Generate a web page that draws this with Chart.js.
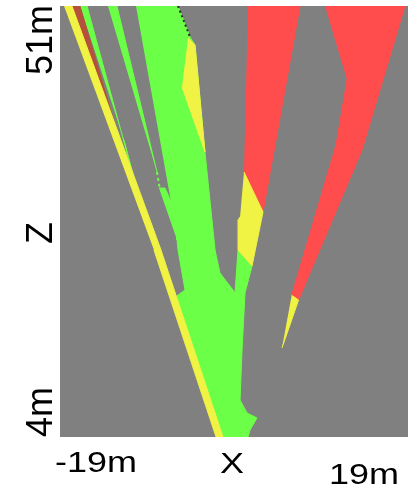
<!DOCTYPE html>
<html>
<head>
<meta charset="utf-8">
<script src="https://cdn.jsdelivr.net/npm/chart.js@4.4.0/dist/chart.umd.min.js"></script>
<style>
  html, body { margin: 0; padding: 0; background: #fff; }
  #wrap { width: 408px; height: 492px; }
</style>
</head>
<body>
<div id="wrap"><canvas id="my_chart" width="408" height="492"></canvas></div>
<script>
(function() {
  'use strict';

  // axis ranges and labels (metres)
  var xRange = [-19, 19];
  var zRange = [4, 51];
  var xTickLabels = ['-19m', '19m'];
  var zTickLabels = ['4m', '51m'];
  var xTitle = 'X';
  var zTitle = 'Z';

  // region outlines, x / z in metres
  var redRightX = [9.94, 18.67, 13.98, 7.05, 6.3, 11.14, 12.34];
  var redRightZ = [51, 51, 35.3, 18.94, 19.45, 35.84, 42.93];

  var yellowTipX = [6.3, 7.05, 5.24];
  var yellowTipZ = [19.45, 18.94, 13.71];

  var redLeftX = [1.53, 7.21, 3.17, 1.09];
  var redLeftZ = [51, 51, 28.54, 32.9];

  var greenMainX = [-10.7, -6.11, -4.8, -4.26, -3.17, -2.07, -1.53, -0.11, 0.11, 0.44, 1.97, 1.2, 0.88, 0.66, 1.42, 2.51, 1.75, 1.53, -1.64, -6.55, -5.35, -6.11, -6.33];
  var greenMainZ = [51, 51, 47.62, 46.75, 35.08, 24.39, 21.88, 20.03, 19.7, 24.39, 22.65, 19.7, 13.49, 8.03, 6.62, 6.07, 4.76, 4, 4, 19.16, 20.03, 24.39, 26.57];

  var yellowBranchX = [1.09, 3.17, 1.97, 0.44, 0.44, 0.66];
  var yellowBranchZ = [32.9, 28.54, 22.65, 24.39, 27.66, 27.99];

  var yellowWedgeX = [-5.02, -4.26, -3.17, -5.68];
  var yellowWedgeZ = [47.51, 46.75, 35.08, 42.17];

  var greenSpurX = [-8.19, -7.53, -6.22, -6.22];
  var greenSpurZ = [31.15, 31.15, 28.21, 25.48];

  var stripe2X = [-13.76, -12.78, -8.41];
  var stripe2Z = [51, 51, 32.9];
  var stripe2TailX = [-8.41, -8.08];
  var stripe2TailZ = [32.9, 30.94];

  var stripe1X = [-16.82, -16.05, -10.7, -12.01];
  var stripe1Z = [51, 51, 31.37, 36.39];

  var redStripeX = [-17.69, -16.82, -12.67];
  var redStripeZ = [51, 51, 36.93];

  var yellowStripeX = [-18.56, -17.69, -7.97, -1.2, -1.96, -8.74];
  var yellowStripeZ = [51, 51, 24.39, 4, 4, 24.39];

  var specksX = [-6.11, -4.8];
  var specksZ = [51, 47.62];

  var GRAY = '#808080';
  var GREEN = '#6bff47';
  var RED = '#ff4d4d';
  var YELLOW = '#f0f244';

  function outline(xs, zs) {
    return xs.map(function(x, i) { return {x: x, y: zs[i]}; });
  }

  // bottom to top
  var layers = [
    {x: redRightX, z: redRightZ, color: RED},
    {x: yellowTipX, z: yellowTipZ, color: YELLOW},
    {x: redLeftX, z: redLeftZ, color: RED},
    {x: greenMainX, z: greenMainZ, color: GREEN},
    {x: yellowBranchX, z: yellowBranchZ, color: YELLOW},
    {x: yellowWedgeX, z: yellowWedgeZ, color: YELLOW},
    {x: greenSpurX, z: greenSpurZ, color: GREEN},
    {x: stripe2X, z: stripe2Z, color: GREEN},
    {x: stripe2TailX, z: stripe2TailZ, color: GREEN, line: true, dash: [3, 3]},
    {x: stripe1X, z: stripe1Z, color: GREEN},
    {x: redStripeX, z: redStripeZ, color: '#b5503a'},
    {x: yellowStripeX, z: yellowStripeZ, color: YELLOW},
    {x: specksX, z: specksZ, color: '#2a2a2a', line: true, dash: [2, 3]}
  ];

  var datasets = layers.map(function(l, i) {
    return {
      data: outline(l.x, l.z),
      fill: l.line ? false : 'shape',
      backgroundColor: l.color,
      borderColor: l.color,
      borderWidth: l.line ? 2 : 1,
      borderDash: l.dash || [],
      pointRadius: 0,
      tension: 0,
      order: layers.length - i
    };
  });

  // gray plot area
  var plotBackground = {
    id: 'plotBackground',
    beforeDraw: function(chart) {
      var a = chart.chartArea, ctx = chart.ctx;
      ctx.save();
      ctx.fillStyle = GRAY;
      ctx.fillRect(a.left, a.top, a.right - a.left, a.bottom - a.top);
      ctx.restore();
    }
  };

  function drawText(ctx, s, x, y, align, rot) {
    ctx.save();
    ctx.translate(x, y);
    ctx.rotate(rot);
    ctx.scale(1.2, rot ? 1.25 : 1);
    ctx.textAlign = align;
    ctx.fillText(s, 0, 0);
    ctx.restore();
  }

  // axis end labels and titles
  var axisText = {
    id: 'axisText',
    afterDraw: function(chart) {
      var ctx = chart.ctx, xs = chart.scales.x, ys = chart.scales.y;
      ctx.save();
      ctx.fillStyle = '#000';
      ctx.font = '30px "Liberation Sans", Arial, sans-serif';
      ctx.textBaseline = 'alphabetic';
      drawText(ctx, xTickLabels[0], xs.getPixelForValue(xRange[0]) - 5, 472, 'left', 0);
      drawText(ctx, xTitle, (xs.left + xs.right) / 2 - 2, 473, 'center', 0);
      drawText(ctx, xTickLabels[1], xs.getPixelForValue(xRange[1]) - 9, 484, 'right', 0);
      drawText(ctx, zTickLabels[0], 52, ys.getPixelForValue(zRange[0]), 'left', -Math.PI / 2);
      drawText(ctx, zTitle, 52, 233, 'center', -Math.PI / 2);
      drawText(ctx, zTickLabels[1], 52, ys.getPixelForValue(zRange[1]) - 1, 'right', -Math.PI / 2);
      ctx.restore();
    }
  };

  var ctx = document.getElementById('my_chart').getContext('2d');
  new Chart(ctx, {
    type: 'line',
    data: { datasets: datasets },
    options: {
      responsive: false,
      animation: false,
      events: [],
      layout: { padding: { left: 60, top: 6, right: 0, bottom: 55 } },
      scales: {
        x: { type: 'linear', min: xRange[0], max: xRange[1], display: false },
        y: { type: 'linear', min: zRange[0], max: zRange[1], display: false }
      },
      plugins: {
        legend: { display: false },
        tooltip: { enabled: false }
      }
    },
    plugins: [plotBackground, axisText]
  });
})();
</script>
</body>
</html>
